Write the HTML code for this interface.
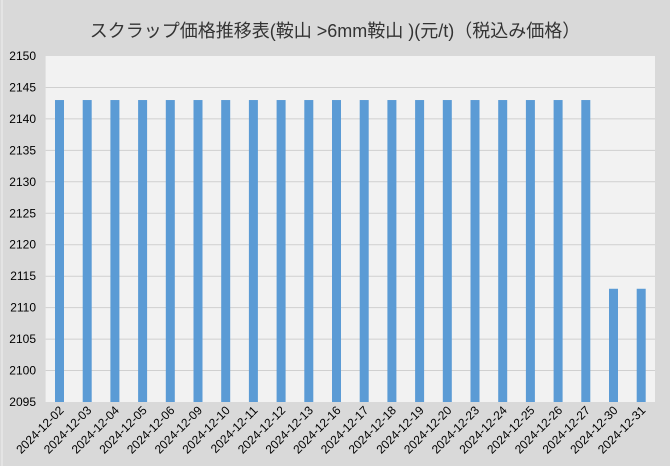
<!DOCTYPE html>
<html><head><meta charset="utf-8"><style>
body{margin:0;width:670px;height:466px;overflow:hidden;background:#d9d9d9}
</style></head><body>
<svg width="670" height="466" xmlns="http://www.w3.org/2000/svg" font-family="'Liberation Sans','Noto Sans CJK JP',sans-serif" style="display:block">
<rect width="670" height="466" fill="#d9d9d9"/>
<line x1="2" y1="0" x2="2" y2="466" stroke="#eeeeee" stroke-width="1"/>
<text x="335" y="37" font-size="18" text-anchor="middle" fill="#333">スクラップ価格推移表(鞍山 &gt;6mm鞍山 )(元/t)（税込み価格）</text>
<rect x="45.6" y="56" width="609.4" height="346" fill="#f2f2f2"/>
<g stroke="#d0d0d0" stroke-width="1">
<line x1="45.6" x2="655" y1="87.5" y2="87.5"/><line x1="45.6" x2="655" y1="118.9" y2="118.9"/>
<line x1="45.6" x2="655" y1="150.4" y2="150.4"/><line x1="45.6" x2="655" y1="181.8" y2="181.8"/>
<line x1="45.6" x2="655" y1="213.3" y2="213.3"/><line x1="45.6" x2="655" y1="244.7" y2="244.7"/>
<line x1="45.6" x2="655" y1="276.2" y2="276.2"/><line x1="45.6" x2="655" y1="307.6" y2="307.6"/>
<line x1="45.6" x2="655" y1="339.1" y2="339.1"/><line x1="45.6" x2="655" y1="370.5" y2="370.5"/>
</g>
<g font-size="12" fill="#000" text-anchor="end">
<text x="36" y="60">2150</text><text x="36" y="91.5">2145</text><text x="36" y="123">2140</text>
<text x="36" y="154.4">2135</text><text x="36" y="185.8">2130</text><text x="36" y="217.3">2125</text>
<text x="36" y="248.7">2120</text><text x="36" y="280.2">2115</text><text x="36" y="311.6">2110</text>
<text x="36" y="343.1">2105</text><text x="36" y="374.5">2100</text><text x="36" y="406">2095</text>
</g>
<g fill="#5b9bd5" id="bars"></g>
<g id="labels" font-size="12" fill="#000" text-anchor="end"></g>
<script>
var d=["02","03","04","05","06","09","10","11","12","13","16","17","18","19","20","23","24","25","26","27","30","31"];
var b=document.getElementById("bars"),l=document.getElementById("labels"),ns="http://www.w3.org/2000/svg";
d.forEach(function(x,i){var c=59.5+i*27.7;var v=i<20?2143:2113;var y=56+(2150-v)*6.291;
var r=document.createElementNS(ns,"rect");r.setAttribute("x",c-4.5);r.setAttribute("y",y);r.setAttribute("width",9);r.setAttribute("height",402-y);b.appendChild(r);
var t=document.createElementNS(ns,"text");t.setAttribute("transform","translate("+(c+5)+",411) rotate(-45)");t.textContent="2024-12-"+x;l.appendChild(t);});
</script>
</svg>
</body></html>
